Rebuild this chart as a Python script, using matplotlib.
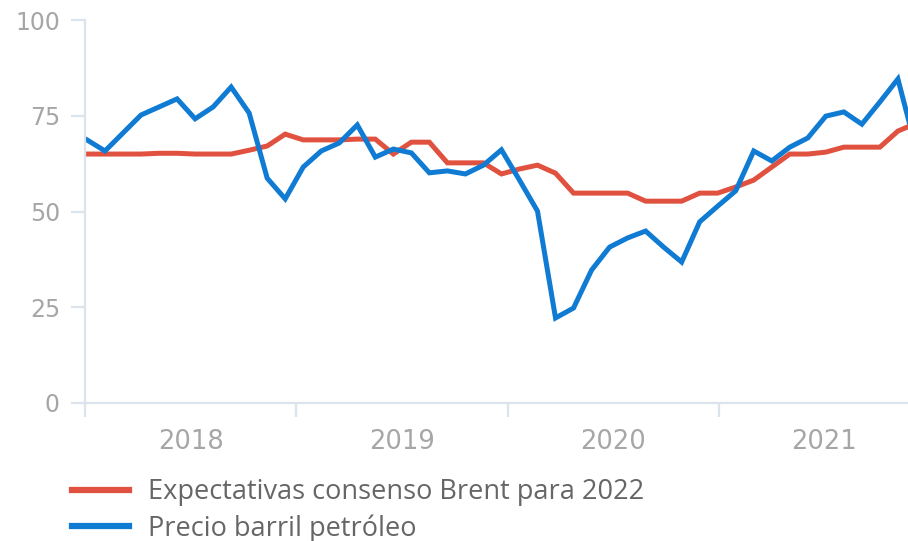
import numpy as np
import matplotlib.pyplot as plt
from matplotlib.ticker import FixedLocator, NullFormatter

plt.rcParams['font.family'] = ['DejaVu Sans']

# monthly observations, Jan 2018 onwards
brent_price = [68.7, 65.8, 70.5, 75.2, 77.3, 79.4, 74.2, 77.3, 82.5, 75.7, 58.7, 53.3,
               61.6, 65.8, 67.9, 72.6, 64.2, 66.3, 65.3, 60.1, 60.6, 59.8, 62.1, 66.1,
               58.2, 50.1, 22.2, 24.8, 34.7, 40.7, 43.1, 44.9, 40.7, 36.8, 47.3, 51.4,
               55.4, 65.8, 63.2, 66.8, 69.2, 74.9, 76.0, 72.8, 78.6, 84.6, 66.5]
consensus_2022 = [65.0, 65.0, 65.0, 65.0, 65.2, 65.2, 65.0, 65.0, 65.0, 66.0, 67.1, 70.2,
                  68.7, 68.7, 68.7, 68.9, 68.9, 65.0, 68.1, 68.1, 62.7, 62.7, 62.7, 59.8,
                  61.1, 62.1, 60.0, 54.8, 54.8, 54.8, 54.8, 52.7, 52.7, 52.7, 54.8, 54.8,
                  56.4, 58.2, 61.6, 65.0, 65.0, 65.5, 66.8, 66.8, 66.8, 71.0, 73.0]
years = ['2018', '2019', '2020', '2021']
label_red = 'Expectativas consenso Brent para 2022'
label_blue = 'Precio barril petróleo'

x = np.arange(len(brent_price))
year_len = 11.72
year_start = -0.1 + year_len * np.arange(len(years))

red = '#e0513f'
blue = '#107bd3'
axis_col = '#dbe3ec'
tick_col = '#a6a6a6'

fig = plt.figure(figsize=(9.08, 5.41), dpi=100)
ax = fig.add_axes([85 / 908, 138 / 541, 823 / 908, 383 / 541])

l1, = ax.plot(x, consensus_2022, color=red, lw=3.6, solid_joinstyle='miter')
l2, = ax.plot(x, brent_price, color=blue, lw=3.6, solid_joinstyle='miter')

ax.set_xlim(-0.11, 45.56)
ax.set_ylim(0, 100)
ax.set_yticks([0, 25, 50, 75, 100])

ax.xaxis.set_major_locator(FixedLocator(year_start))
ax.xaxis.set_major_formatter(NullFormatter())
ax.xaxis.set_minor_locator(FixedLocator(year_start + year_len / 2))
ax.set_xticklabels(years, minor=True)

for s in ['top', 'right']:
    ax.spines[s].set_visible(False)
for s in ['left', 'bottom']:
    ax.spines[s].set_color(axis_col)
    ax.spines[s].set_linewidth(1.6)

ax.tick_params(axis='both', which='major', color=axis_col, width=1.6, length=10,
               labelcolor=tick_col, labelsize=17)
ax.tick_params(axis='y', pad=8)
ax.tick_params(axis='x', which='minor', length=0, pad=19, labelcolor=tick_col, labelsize=18.5)

leg = fig.legend([l1, l2], [label_red, label_blue], loc='upper left',
                 bbox_to_anchor=(64 / 908, 1 - 470 / 541), frameon=False,
                 prop={'family': 'Open Sans', 'size': 19.5}, labelcolor='#666666',
                 handlelength=2.1, handletextpad=0.7, labelspacing=0.3,
                 borderaxespad=0, borderpad=0.3)
for h in leg.legend_handles:
    h.set_linewidth(4.5)

fig.savefig('out.png', dpi=100)
